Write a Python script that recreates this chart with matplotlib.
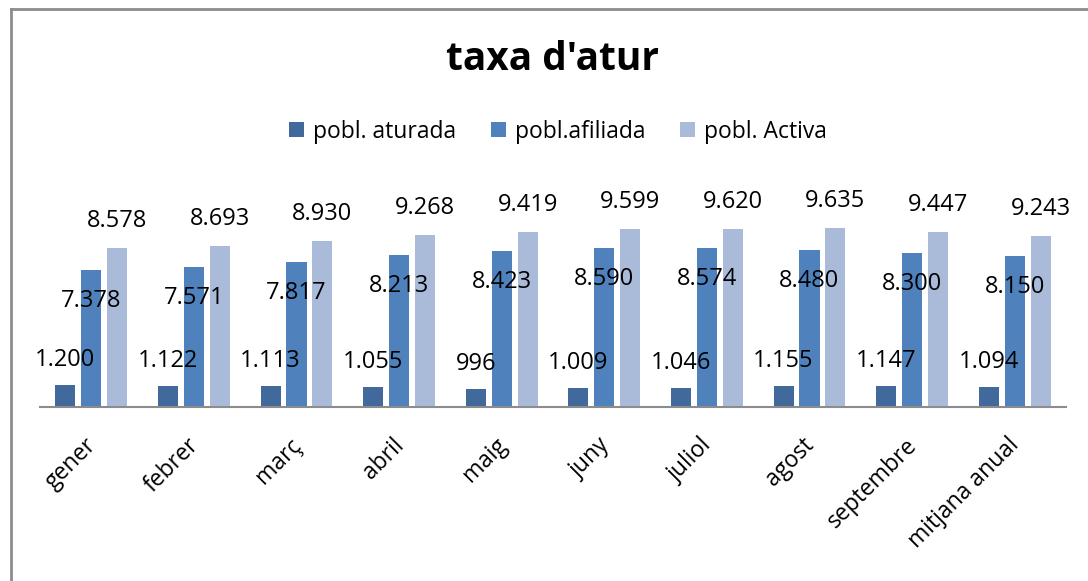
import matplotlib
matplotlib.use('Agg')
import matplotlib.pyplot as plt
from matplotlib.lines import Line2D
import numpy as np

plt.rcParams['font.family'] = ['Open Sans', 'DejaVu Sans']

mesos = ['gener', 'febrer', 'març', 'abril', 'maig', 'juny', 'juliol',
         'agost', 'septembre', 'mitjana anual']
aturada = [1200, 1122, 1113, 1055, 996, 1009, 1046, 1155, 1147, 1094]
afiliada = [7378, 7571, 7817, 8213, 8423, 8590, 8574, 8480, 8300, 8150]
activa = [8578, 8693, 8930, 9268, 9419, 9599, 9620, 9635, 9447, 9243]
series = ['pobl. aturada', 'pobl.afiliada', 'pobl. Activa']
colors = ['#41699B', '#4F81BD', '#AABBDA']

def fmt(v):
    return '{:,}'.format(v).replace(',', '.')

fig = plt.figure(figsize=(10.88, 5.81), dpi=100)
# axes placed so the baseline sits where the original one does
ax = fig.add_axes([40 / 1088, 174 / 581, 1026 / 1088, 185.4 / 581])

x = np.arange(len(mesos))
w = 0.195
step = 0.253
# label offsets (pixels) relative to the bar tops, like the original layout
offs = [25, -31, 27]
for k, (vals, name, c) in enumerate(zip([aturada, afiliada, activa], series, colors)):
    pos = x + (k - 1) * step
    ax.bar(pos, vals, width=w, color=c, label=name, zorder=2)
    for p, v in zip(pos, vals):
        ax.annotate(fmt(v), (p, v), xytext=(0, offs[k]), textcoords='offset pixels',
                    ha='center', va='center', fontsize=17, color='black',
                    annotation_clip=False, zorder=3)

ax.set_xlim(-0.5, len(mesos) - 0.5)
ax.set_ylim(0, 10000)
ax.set_yticks([])
for s in ['top', 'right', 'left']:
    ax.spines[s].set_visible(False)
ax.spines['bottom'].set_color('#8C8C8C')
ax.spines['bottom'].set_linewidth(1.5)
ax.set_xticks(x - 0.07)
ax.set_xticklabels(mesos, rotation=45, ha='right', rotation_mode='anchor', fontsize=16.5)
ax.tick_params(axis='x', length=0, pad=19)

fig.text(0.508, 0.897, "taxa d'atur", ha='center', va='center', fontsize=28, fontweight='bold')
fig.legend(loc='center', bbox_to_anchor=(0.513, 0.773), ncol=3, frameon=False, fontsize=16.5,
           handlelength=0.65, handleheight=0.65, handletextpad=0.4, columnspacing=1.5)

# chart border (only top and left are visible in the original)
fig.add_artist(Line2D([10.5 / 1088, 1], [1 - 8.5 / 581, 1 - 8.5 / 581], color='#8C8C8C', lw=2))
fig.add_artist(Line2D([10.5 / 1088, 10.5 / 1088], [0, 1 - 8.5 / 581], color='#8C8C8C', lw=2))

plt.savefig('out.png', dpi=100)
